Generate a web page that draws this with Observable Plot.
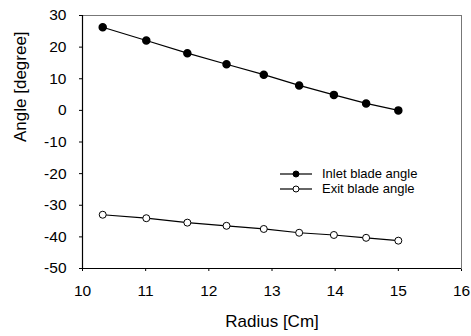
<!DOCTYPE html>
<html><head><meta charset="utf-8">
<script src="https://cdn.jsdelivr.net/npm/d3@7"></script>
<script src="https://cdn.jsdelivr.net/npm/@observablehq/plot@0.6"></script>
<style>
body{margin:0;background:#fff;font-family:"Liberation Sans",Arial,sans-serif;}
#wrap{position:relative;width:471px;height:336px;}
#legend{position:absolute;left:280px;top:166px;font-size:13px;line-height:15px;color:#000;}
#legend div{display:flex;align-items:center;height:15px;}
#legend svg{margin-right:9px;}
</style>
</head><body>
<div id="wrap"><div id="legend"></div></div>
<script>
const radius = [10.32, 11.01, 11.66, 12.28, 12.87, 13.43, 13.98, 14.49, 15.0];
const inletAngle = [26.3, 22.1, 18.1, 14.6, 11.3, 7.9, 4.9, 2.2, 0.0];
const exitAngle = [-33.0, -34.1, -35.5, -36.5, -37.5, -38.7, -39.4, -40.3, -41.2];
const xTicks = [10, 11, 12, 13, 14, 15, 16];
const yTicks = [30, 20, 10, 0, -10, -20, -30, -40, -50];
const seriesNames = ["Inlet blade angle", "Exit blade angle"];

const inlet = radius.map((r, i) => ({r, a: inletAngle[i]}));
const exit = radius.map((r, i) => ({r, a: exitAngle[i]}));

const chart = Plot.plot({
  width: 471, height: 336,
  marginLeft: 82, marginTop: 15, marginRight: 10, marginBottom: 68,
  style: {fontFamily: "Liberation Sans, Arial, sans-serif", fontSize: "15.5px", color: "#000", background: "#fff"},
  x: {domain: [10, 16], ticks: xTicks, tickFormat: d => String(d), tickSize: 3, tickPadding: 13, label: null},
  y: {domain: [-50, 30], ticks: yTicks, tickFormat: d => String(d), tickSize: 3, tickPadding: 13, label: null},
  marks: [
    Plot.frame({stroke: "#777", strokeWidth: 1}),
    Plot.ruleX([10], {stroke: "#000", strokeWidth: 1.2}),
    Plot.ruleY([-50], {stroke: "#000", strokeWidth: 1.2}),
    Plot.line(inlet, {x: "r", y: "a", stroke: "#000", strokeWidth: 1.2}),
    Plot.line(exit, {x: "r", y: "a", stroke: "#000", strokeWidth: 1.2}),
    Plot.dot(inlet, {x: "r", y: "a", r: 3.5, fill: "#000", stroke: "#000"}),
    Plot.dot(exit, {x: "r", y: "a", r: 3.5, fill: "#fff", stroke: "#000", strokeWidth: 1}),
    Plot.text(["Radius [Cm]"], {frameAnchor: "bottom", dy: 58, fontSize: 17, fill: "#000"}),
    Plot.text(["Angle [degree]"], {frameAnchor: "left", dx: -62, rotate: -90, fontSize: 17, fill: "#000"})
  ]
});
document.getElementById("wrap").prepend(chart);

const lg = d3.select("#legend");
seriesNames.forEach((name, i) => {
  const row = lg.append("div");
  const s = row.append("svg").attr("width", 33).attr("height", 10);
  s.append("line").attr("x1", 0).attr("x2", 32).attr("y1", 5).attr("y2", 5).attr("stroke", "#000").attr("stroke-width", 1.2);
  s.append("circle").attr("cx", 16).attr("cy", 5).attr("r", 3)
    .attr("fill", i === 0 ? "#000" : "#fff").attr("stroke", "#000");
  row.append("span").text(name);
});
</script>
</body></html>
